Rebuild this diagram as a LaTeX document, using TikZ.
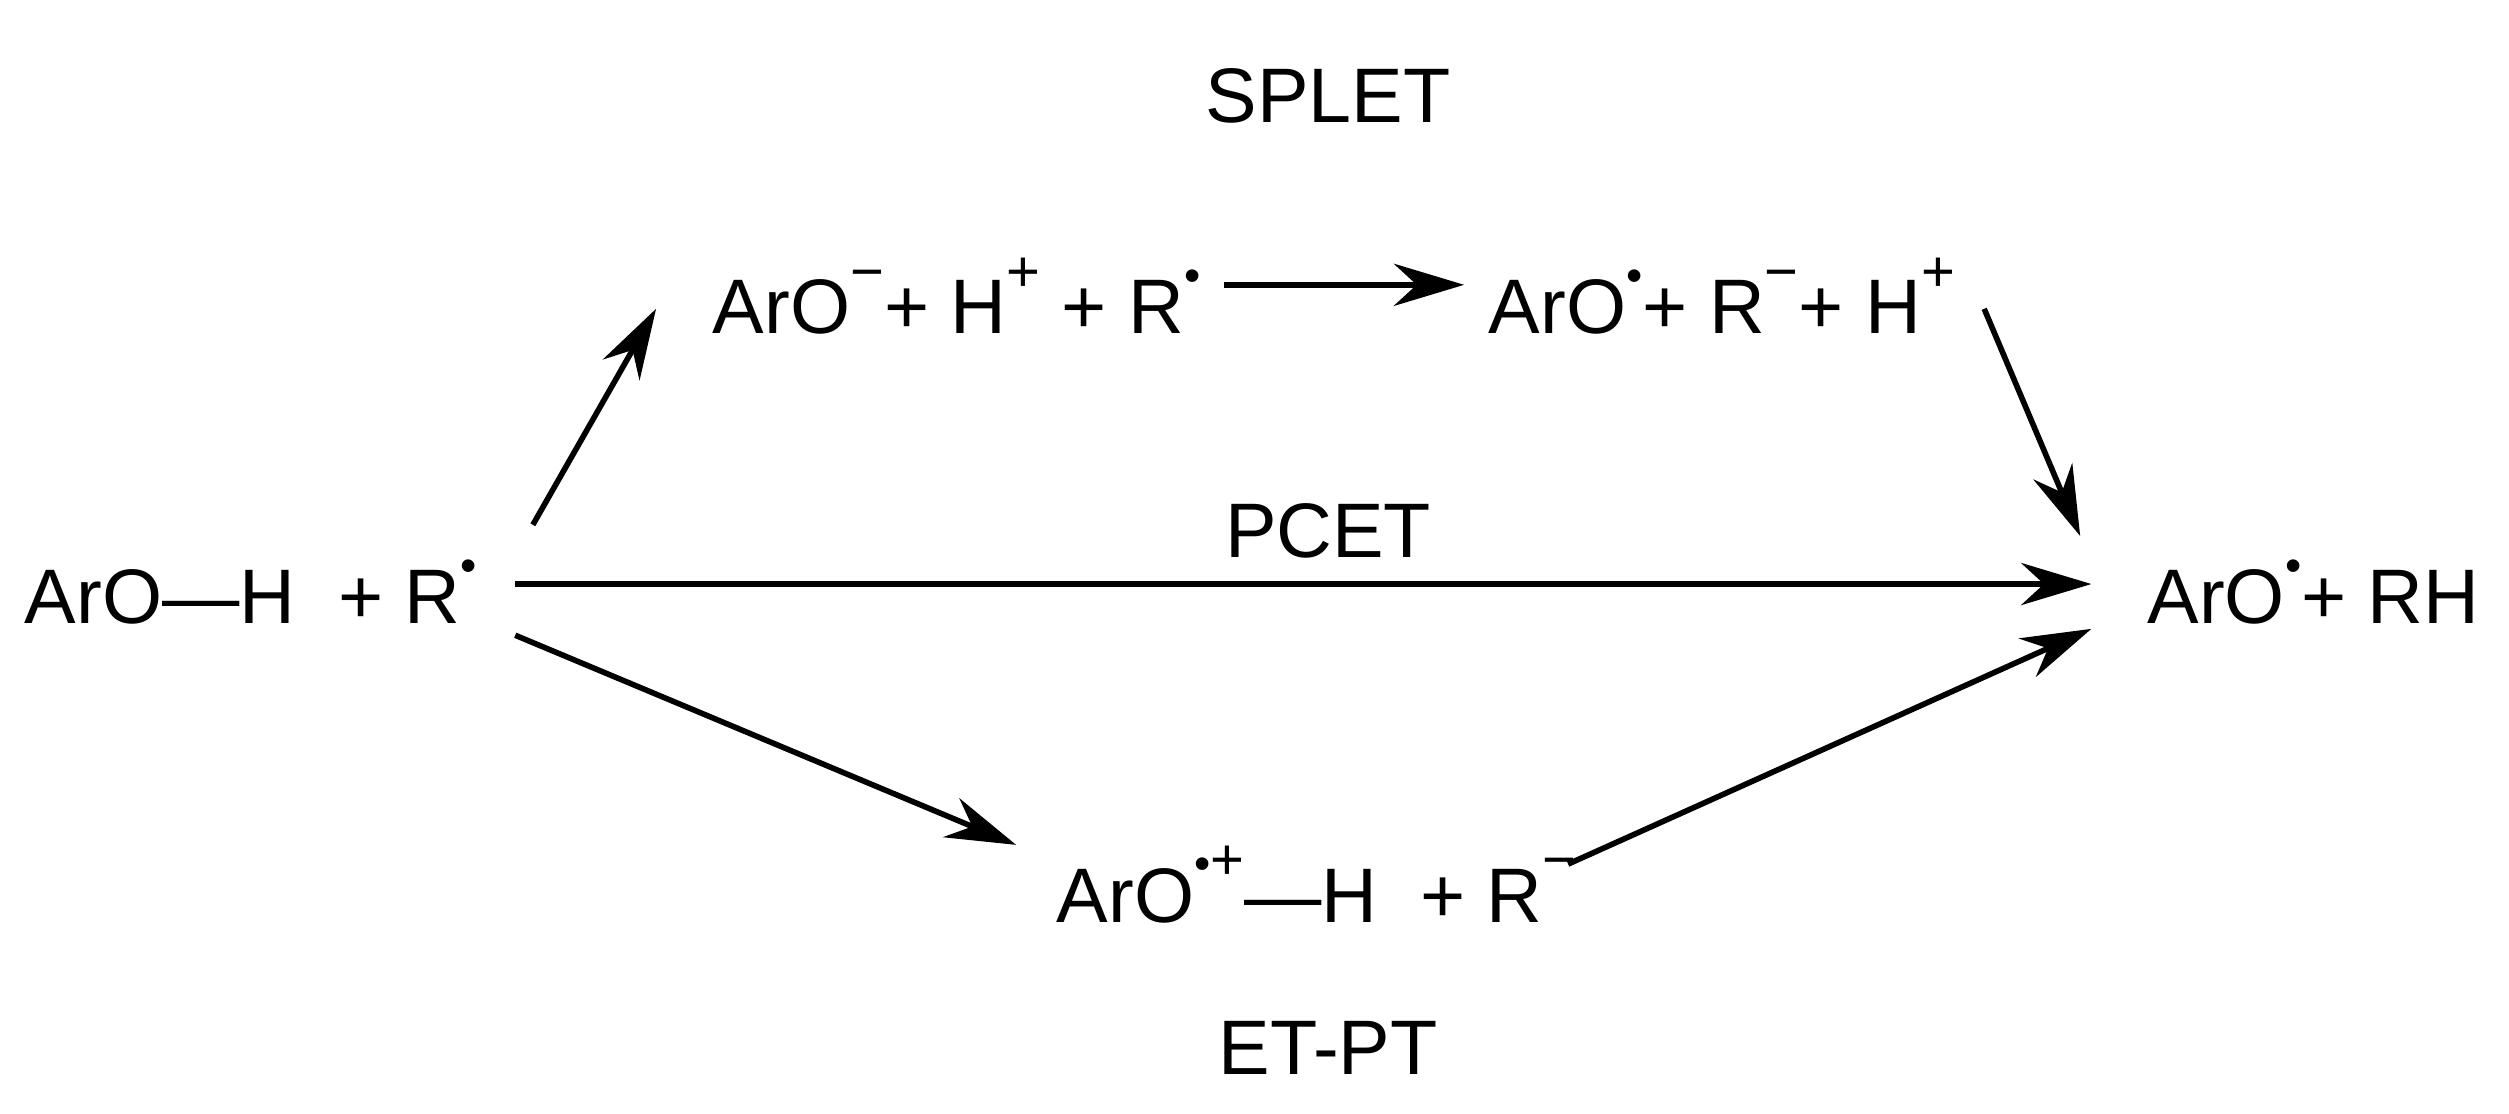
\documentclass[tikz,border=0pt]{standalone}
\usepackage{fontspec}
\setmainfont{Liberation Sans}
\usetikzlibrary{arrows.meta}
\newcommand{\rd}{\raisebox{0.55em}{\scalebox{0.6}{•}}}
\newcommand{\mn}{\raisebox{0.55em}{\scalebox{0.75}{−}}}
\newcommand{\pl}{\raisebox{0.55em}{\scalebox{0.75}{+}}}
\begin{document}
\begin{tikzpicture}[x=0.016cm,y=-0.016cm,
  lbl/.style={font=\fontsize{22}{26}\selectfont, inner sep=0pt},
  arr/.style={line width=1.6pt,-{Stealth[length=20pt,width=12pt]}}]
\useasboundingbox (0,0) rectangle (1568,696);
\node[lbl] (splet) at (830,60) {SPLET};
\node[lbl,anchor=west] (a1) at (445,185) {ArO\mn{}+ H\pl{} + R\rd};
\node[lbl,anchor=west] (a2) at (930,185) {ArO\rd{}+ R\mn{}+ H\pl};
\node[lbl,anchor=west] (s) at (15,370) {ArO—H \ + R\rd};
\node[lbl] (pcet) at (830,332) {PCET};
\node[lbl,anchor=east] (p) at (1550,370) {ArO\rd{}+ RH};
\node[lbl,anchor=west] (b1) at (660,553) {ArO\raisebox{0.55em}{\scalebox{0.6}{•}\scalebox{0.75}{+}}—H \ + R\mn};
\node[lbl] (etpt) at (830,655) {ET-PT};
\coordinate (c1) at (333,328); \coordinate (c2) at (410,193);
\coordinate (c3) at (765,178); \coordinate (c4) at (915,178);
\coordinate (c5) at (1240,193); \coordinate (c6) at (1300,335);
\coordinate (c7) at (322,365); \coordinate (c8) at (1307,365);
\coordinate (c9) at (322,397); \coordinate (c10) at (635,528);
\coordinate (c11) at (980,540); \coordinate (c12) at (1307,393);
\draw[arr] (c1)--(c2);
\draw[arr] (c3)--(c4);
\draw[arr] (c5)--(c6);
\draw[arr] (c7)--(c8);
\draw[arr] (c9)--(c10);
\draw[arr] (c11)--(c12);
\end{tikzpicture}
\end{document}
